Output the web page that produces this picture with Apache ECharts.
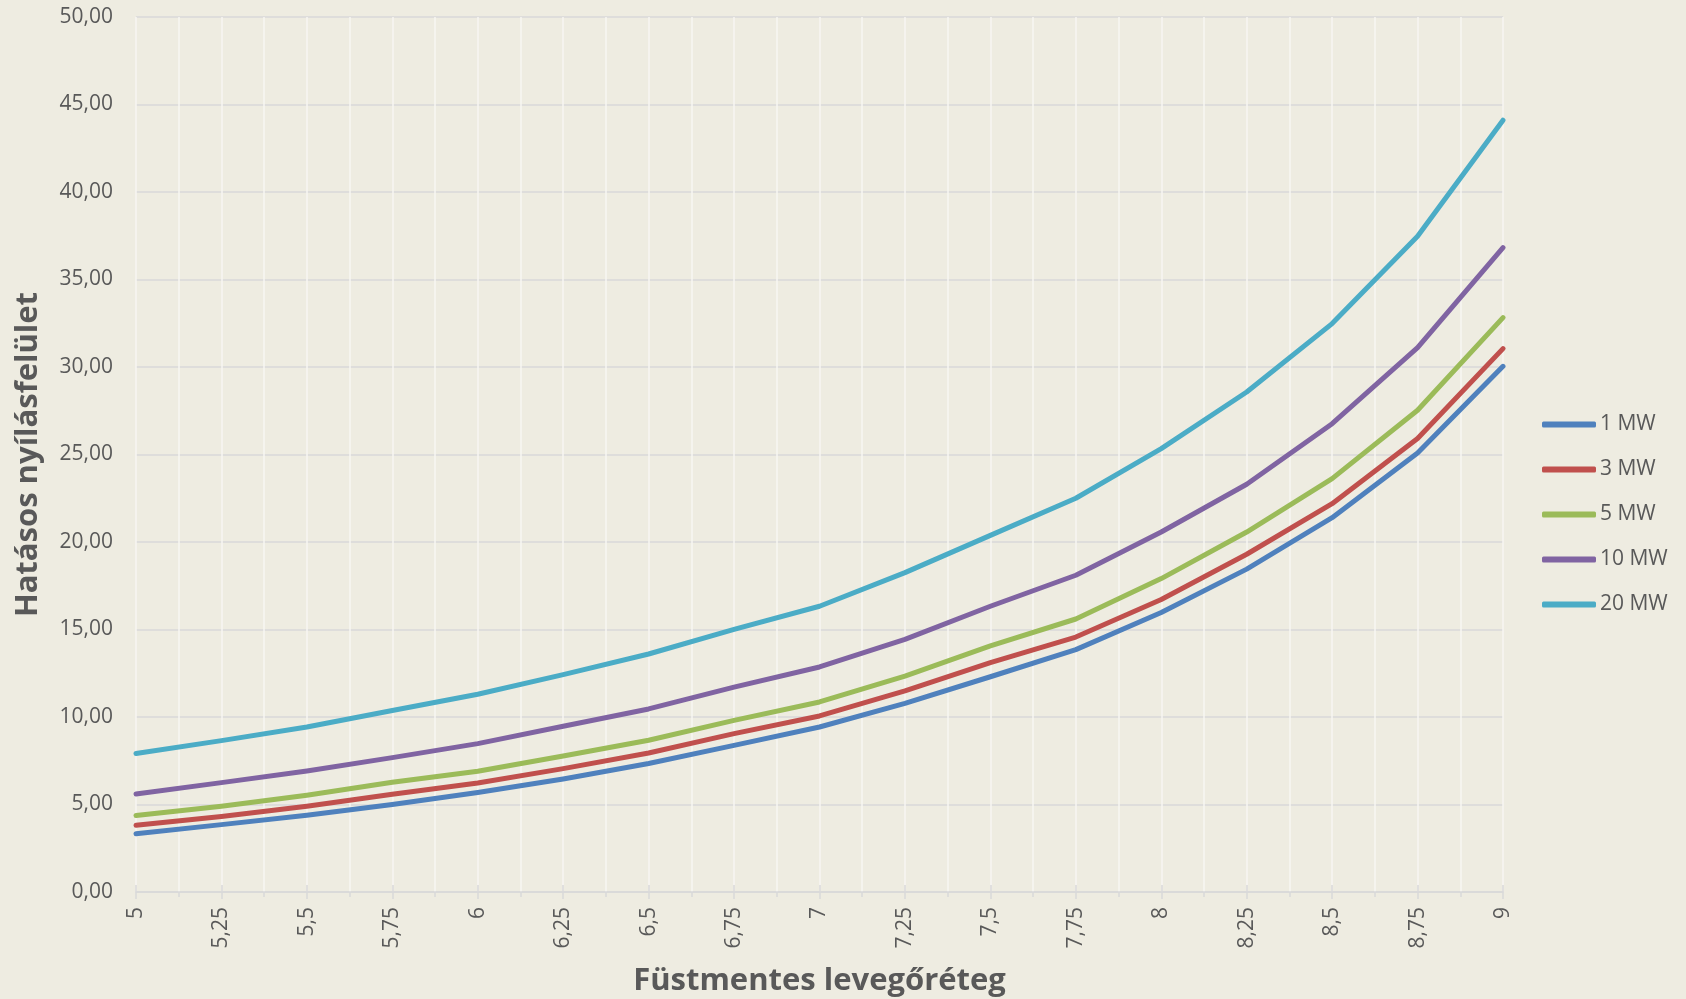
<!DOCTYPE html>
<html>
<head>
<meta charset="utf-8">
<title>Hatásos nyílásfelület</title>
<script src="https://cdn.jsdelivr.net/npm/echarts@6/dist/echarts.min.js"></script>
<style>
  html, body { margin: 0; padding: 0; background: #EEECE1; }
  #chart { width: 1686px; height: 999px; }
</style>
</head>
<body>
<div id="chart"></div>
<script>
// Smoke-free layer height (m)
const layerHeights = [5, 5.25, 5.5, 5.75, 6, 6.25, 6.5, 6.75, 7, 7.25, 7.5, 7.75, 8, 8.25, 8.5, 8.75, 9];

// Effective opening area per fire size
const seriesNames = ['1 MW', '3 MW', '5 MW', '10 MW', '20 MW'];
const area1MW  = [3.33, 3.85, 4.38, 5.00, 5.68, 6.46, 7.34, 8.38, 9.43, 10.78, 12.30, 13.85, 15.97, 18.45, 21.39, 25.09, 30.04];
const area3MW  = [3.81, 4.31, 4.90, 5.58, 6.23, 7.05, 7.94, 9.05, 10.06, 11.49, 13.11, 14.57, 16.71, 19.30, 22.19, 25.91, 31.05];
const area5MW  = [4.37, 4.90, 5.53, 6.27, 6.90, 7.77, 8.67, 9.81, 10.86, 12.34, 14.06, 15.60, 17.91, 20.57, 23.62, 27.53, 32.82];
const area10MW = [5.60, 6.25, 6.91, 7.68, 8.48, 9.47, 10.46, 11.71, 12.86, 14.44, 16.33, 18.10, 20.57, 23.30, 26.76, 31.11, 36.82];
const area20MW = [7.91, 8.65, 9.43, 10.37, 11.30, 12.42, 13.60, 15.01, 16.33, 18.25, 20.38, 22.50, 25.34, 28.57, 32.48, 37.47, 44.10];

const seriesValues = [area1MW, area3MW, area5MW, area10MW, area20MW];
const seriesColors = ['#4F81BD', '#C0504D', '#9BBB59', '#8064A2', '#4BACC6'];

const font = '"Open Sans", "Noto Sans", sans-serif';
const textGrey = '#595959';

const chart = echarts.init(document.getElementById('chart'), null, { renderer: 'canvas' });

const commaNum = v => String(v).replace('.', ',');

chart.setOption({
  backgroundColor: '#EEECE1',
  animation: false,
  grid: { left: 136, right: 183, top: 17, bottom: 107, containLabel: false, outerBoundsMode: 'none' },
  legend: {
    orient: 'vertical',
    left: 1537,
    top: 409,
    itemWidth: 54,
    itemHeight: 6,
    itemGap: 24,
    icon: 'roundRect',
    data: seriesNames,
    textStyle: { fontFamily: font, fontSize: 21, color: textGrey, lineHeight: 21, padding: [0, 0, 0, -1] }
  },
  xAxis: [{
    type: 'value',
    min: 5,
    max: 9,
    interval: 0.25,
    name: 'Füstmentes levegőréteg',
    nameLocation: 'middle',
    nameGap: 74,
    nameTextStyle: { fontFamily: font, fontSize: 31, fontWeight: 'bold', color: textGrey },
    axisLine: { show: true, lineStyle: { color: '#D9D9D9', width: 1.5 } },
    axisTick: { show: true, length: 7, lineStyle: { color: '#D9D9D9', width: 1.5 } },
    minorTick: { show: true, splitNumber: 2, length: 5, lineStyle: { color: '#D9D9D9', width: 1.5 } },
    splitLine: { show: true, lineStyle: { color: '#F7F6F2', width: 1.5 } },
    minorSplitLine: { show: true, lineStyle: { color: '#F7F6F2', width: 1.5 } },
    axisLabel: {
      rotate: 90,
      margin: 15,
      fontFamily: font,
      fontSize: 21,
      color: textGrey,
      formatter: commaNum
    }
  }, {
    // inner half of the major tick marks
    type: 'value',
    position: 'bottom',
    min: 5,
    max: 9,
    interval: 0.25,
    axisLine: { show: false },
    axisTick: { show: true, inside: true, length: 7, lineStyle: { color: '#D9D9D9', width: 1.5 } },
    axisLabel: { show: false },
    splitLine: { show: false }
  }],
  yAxis: {
    type: 'value',
    min: 0,
    max: 50,
    interval: 5,
    name: 'Hatásos nyílásfelület',
    nameLocation: 'middle',
    nameRotate: 90,
    nameGap: 92,
    nameTextStyle: { fontFamily: font, fontSize: 31, fontWeight: 'bold', color: textGrey },
    axisLine: { show: false },
    axisTick: { show: false },
    splitLine: { show: true, lineStyle: { color: '#D9D9D9', width: 1.5 } },
    axisLabel: {
      margin: 23,
      fontFamily: font,
      fontSize: 21,
      color: textGrey,
      formatter: v => v.toFixed(2).replace('.', ',')
    }
  },
  series: seriesNames.map((name, i) => ({
    name: name,
    type: 'line',
    xAxisIndex: 0,
    data: layerHeights.map((h, j) => [h, seriesValues[i][j]]),
    showSymbol: false,
    symbol: 'none',
    color: seriesColors[i],
    lineStyle: { width: 5, color: seriesColors[i], cap: 'round', join: 'round' },
    z: 2 + i
  }))
});
</script>
</body>
</html>
